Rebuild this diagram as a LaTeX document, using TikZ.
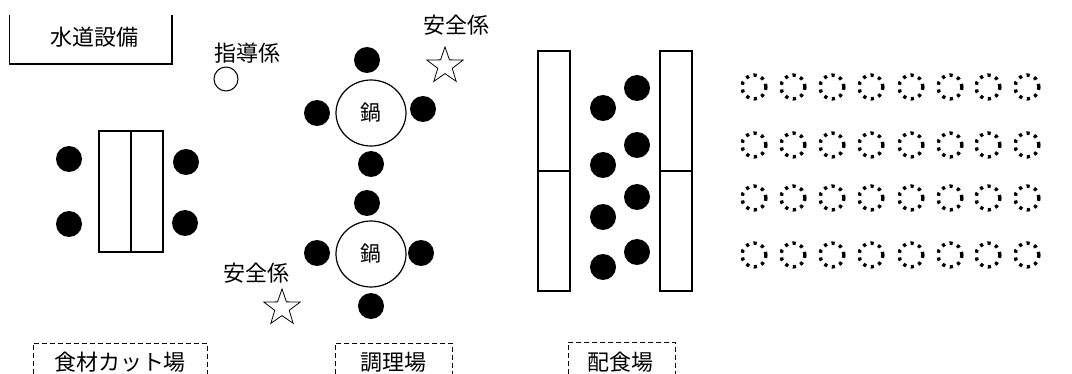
\documentclass[tikz,border=0pt]{standalone}
\usepackage{fontspec}
\setmainfont{Noto Sans CJK JP}
\usetikzlibrary{shapes.geometric}
\begin{document}
\begin{tikzpicture}[x=1pt,y=-1pt,
  person/.style={circle,fill=black,minimum width=25pt,minimum height=26pt,inner sep=0pt},
  seat/.style={circle,draw,line width=3.4pt,dash pattern=on 3.2pt off 4.8pt,minimum size=24pt,inner sep=0pt},
  pot/.style={ellipse,draw,line width=1.2pt,minimum width=70pt,minimum height=66pt,inner sep=0pt,font=\fontsize{21pt}{23pt}\selectfont},
  guard/.style={star,star points=5,star point ratio=2.5,draw,line width=0.8pt,minimum size=38pt,inner sep=0pt},
  tablebox/.style={draw,line width=1.4pt},
  lbl/.style={font=\fontsize{22pt}{24pt}\selectfont,inner sep=0pt},
  area/.style={draw,line width=0.9pt,dash pattern=on 5pt off 3pt}
]
\useasboundingbox (0,0) rectangle (1072,374);
\fill[white] (0,0) rectangle (1072,374);
% water supply
\draw[tablebox] (9.5,15) -- (9.5,64) -- (172,64) -- (172,15);
\node[lbl] (water) at (94,37) {水道設備};
% instructor
\node[lbl] (instrlbl) at (247,53) {指導係};
\node[circle,draw,line width=1pt,minimum size=24pt,inner sep=0pt] (instr) at (226,79) {};
% safety officers
\node[lbl] (safe1lbl) at (456,25) {安全係};
\node[guard] (safe1) at (445,66) {};
\node[lbl] (safe2lbl) at (256,273) {安全係};
\node[guard] (safe2) at (282,308) {};
% cutting area
\draw[tablebox] (99,131) rectangle (131,252);
\draw[tablebox] (131,131) rectangle (163,252);
\node[person] (c1) at (69,159) {};
\node[person] (c2) at (69,224) {};
\node[person] (c3) at (186,162) {};
\node[person] (c4) at (185,223) {};
% pots
\node[pot] (pot1) at (371,113) {鍋};
\node[person] (p1t) at (367,60) {};
\node[person] (p1l) at (317,113) {};
\node[person] (p1r) at (423,109) {};
\node[person] (p1b) at (371,164) {};
\node[pot] (pot2) at (371,254) {鍋};
\node[person] (p2t) at (367,203) {};
\node[person] (p2l) at (317,253) {};
\node[person] (p2r) at (421,253) {};
\node[person] (p2b) at (371,306) {};
% serving tables
\draw[tablebox] (538,51) rectangle (570,171);
\draw[tablebox] (538,171) rectangle (570,291);
\draw[tablebox] (660,51) rectangle (692,171);
\draw[tablebox] (660,171) rectangle (692,291);
\foreach \y [count=\i] in {108,165,217,267} \node[person] (sl\i) at (603,\y) {};
\foreach \y [count=\i] in {88,145,197,252} \node[person] (sr\i) at (637,\y) {};
% seats
\foreach \x [count=\i] in {754,793,832,871,911,950,988,1027}
  \foreach \y [count=\j] in {87,145,198,255}
    \node[seat] (seat\i\j) at (\x,\y) {};
% area labels
\draw[area] (33,374) -- (33,343) -- (207,343) -- (207,374);
\node[lbl] (cutlbl) at (120,362) {食材カット場};
\draw[area] (335,374) -- (335,343) -- (452,343) -- (452,374);
\node[lbl] (cooklbl) at (393,362) {調理場};
\draw[area] (568,374) -- (568,342) -- (675,342) -- (675,374);
\node[lbl] (servelbl) at (620,362) {配食場};
\end{tikzpicture}
\end{document}
